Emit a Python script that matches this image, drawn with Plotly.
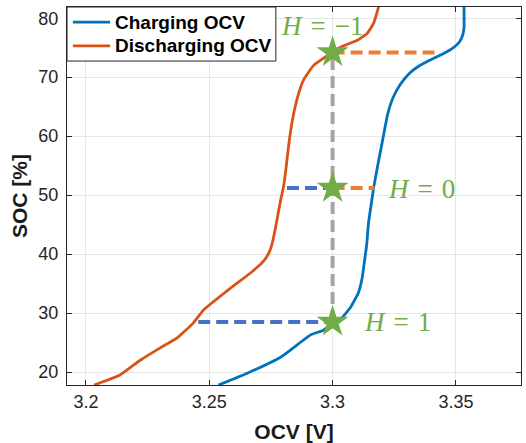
import plotly.graph_objects as go

# Open-circuit voltage curves (V) versus state of charge (%)
charge_ocv = [3.2537, 3.2654, 3.2789, 3.2911, 3.2963, 3.3000, 3.3033, 3.3073, 3.3105,
              3.3120, 3.3130, 3.3138, 3.3146, 3.3155, 3.3167, 3.3187, 3.3207, 3.3222,
              3.3245, 3.3275, 3.3310, 3.3350, 3.3400, 3.3450, 3.3490, 3.3515, 3.3528,
              3.3533, 3.3533]
charge_soc = [17.8, 19.8, 22.5, 26.3, 27.1, 28.3, 29.0, 31.0, 33.5,
              36.0, 39.0, 41.5, 45.4, 48.0, 51.4, 55.9, 60.2, 63.5,
              66.5, 68.8, 70.6, 71.9, 73.0, 74.0, 75.0, 76.0, 77.2,
              78.5, 82.0]

discharge_ocv = [3.2033, 3.2138, 3.2220, 3.2301, 3.2370, 3.2435, 3.2476, 3.2516, 3.2585,
                 3.2667, 3.2720, 3.2745, 3.2758, 3.2770, 3.2781, 3.2790, 3.2801, 3.2811,
                 3.2822, 3.2837, 3.2858, 3.2882, 3.2923, 3.2980, 3.3033, 3.3102, 3.3142,
                 3.3167, 3.3187]
discharge_soc = [17.8, 19.5, 22.0, 24.1, 25.8, 28.3, 30.5, 31.9, 34.2,
                 36.8, 38.8, 40.5, 42.3, 44.8, 47.3, 49.3, 51.4, 54.5,
                 58.5, 62.7, 66.6, 69.5, 72.0, 73.7, 75.1, 76.3, 77.5,
                 79.2, 82.0]

# Hysteresis states read at a fixed OCV of 3.3 V
h_ocv = 3.3
h_soc = [74.2, 51.2, 28.5]          # H = -1, H = 0, H = 1
h_labels = ["<i>H</i>\u2004=\u2004−1", "<i>H</i>\u2004=\u20040", "<i>H</i>\u2004=\u20041"]

# Horizontal guide segments: (start OCV, end OCV, SOC, colour)
guides = [
    (3.3000, 3.3430, 74.2, "#ED7D31"),
    (3.2815, 3.3000, 51.2, "#4472C4"),
    (3.3000, 3.3170, 51.2, "#ED7D31"),
    (3.2455, 3.3000, 28.5, "#4472C4"),
]

series_names = ["Charging OCV", "Discharging OCV"]
series_colors = ["#0072BD", "#D95319"]

SANS = "Liberation Sans, Arial, sans-serif"

fig = go.Figure()

fig.add_trace(go.Scatter(x=charge_ocv, y=charge_soc, mode="lines", name=series_names[0],
                         line=dict(color=series_colors[0], width=2.8, shape="spline", smoothing=0.4)))
fig.add_trace(go.Scatter(x=discharge_ocv, y=discharge_soc, mode="lines", name=series_names[1],
                         line=dict(color=series_colors[1], width=2.8, shape="spline", smoothing=0.4)))

# Vertical guide at 3.3 V between H = 1 and H = -1
fig.add_trace(go.Scatter(x=[h_ocv, h_ocv], y=[h_soc[2], h_soc[0]], mode="lines",
                         line=dict(color="#A5A5A5", width=4, dash="12px,6px"),
                         showlegend=False, hoverinfo="skip"))

for x0, x1, s, c in guides:
    fig.add_trace(go.Scatter(x=[x0, x1], y=[s, s], mode="lines",
                             line=dict(color=c, width=4, dash="12px,6px"),
                             showlegend=False, hoverinfo="skip"))

fig.add_trace(go.Scatter(x=[h_ocv] * 3, y=h_soc, mode="markers",
                         marker=dict(symbol="star", size=24, color="#70AD47",
                                     line=dict(width=0)),
                         showlegend=False, hoverinfo="skip"))

# State labels
label_pos = [(3.2955, 78.6, "center"), (3.3222, 51.0, "left"), (3.3124, 28.5, "left")]
for (lx, ly, anc), txt in zip(label_pos, h_labels):
    fig.add_annotation(x=lx, y=ly, text=txt, showarrow=False, xanchor=anc, yanchor="middle",
                       borderpad=0,
                       font=dict(family="Liberation Serif, serif", size=27, color="#70AD47"))

# Legend box in the upper-left corner of the axes
fig.add_shape(type="rect", xref="paper", yref="paper", x0=0, x1=0.460, y0=0.857, y1=1.0,
              line=dict(color="#262626", width=1), fillcolor="#FFFFFF", layer="above")
legend_rows = [0.960, 0.897]
for name, col, ry in zip(series_names, series_colors, legend_rows):
    fig.add_shape(type="line", xref="paper", yref="paper", x0=0.013, x1=0.095, y0=ry, y1=ry,
                  line=dict(color=col, width=2.8), layer="above")
    fig.add_annotation(xref="paper", yref="paper", x=0.104, y=ry, text=f"<b>{name}</b>",
                       showarrow=False, xanchor="left", yanchor="middle", borderpad=0,
                       font=dict(family=SANS, size=19, color="#000000"))

axis_common = dict(
    showline=True, linecolor="#262626", linewidth=1, mirror="ticks",
    ticks="inside", ticklen=5, tickcolor="#262626",
    showgrid=True, gridcolor="#E6E6E6", gridwidth=1, zeroline=False, automargin=False,
    tickfont=dict(family=SANS, size=18, color="#262626"),
)

fig.update_xaxes(range=[3.1923, 3.3764], tickvals=[3.2, 3.25, 3.3, 3.35],
                 ticktext=["3.2", "3.25", "3.3", "3.35"],
                 title=dict(text="<b>OCV [V]</b>", standoff=13,
                            font=dict(family=SANS, size=21, color="#1A1A1A")),
                 **axis_common)
fig.update_yaxes(range=[17.8, 81.9], tickvals=[20, 30, 40, 50, 60, 70, 80],
                 ticklabelstandoff=4,
                 title=dict(text="<b>SOC [%]</b>", standoff=5,
                            font=dict(family=SANS, size=21, color="#1A1A1A")),
                 **axis_common)

fig.update_layout(
    width=526, height=443,
    margin=dict(l=67, r=5, t=7, b=58),
    plot_bgcolor="#FFFFFF", paper_bgcolor="#FFFFFF",
    showlegend=False,
)

fig.write_html("out.html")
